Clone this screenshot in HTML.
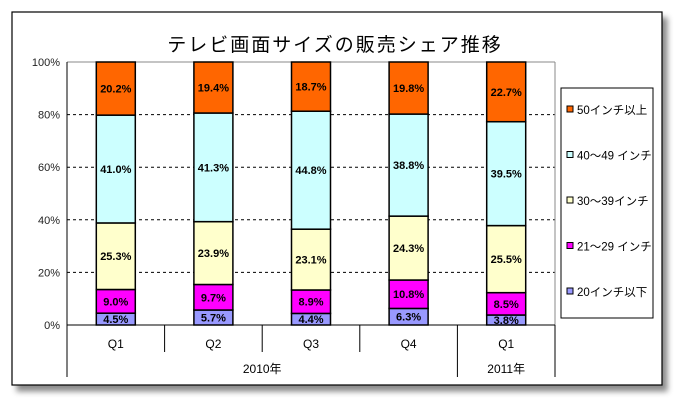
<!DOCTYPE html>
<html><head><meta charset="utf-8"><style>
body{margin:0;background:#fff;width:683px;height:406px;overflow:hidden;font-family:"Liberation Sans","Noto Sans CJK JP",sans-serif}
</style></head><body>
<svg width="683" height="406" xmlns="http://www.w3.org/2000/svg">
<defs><filter id="sh" x="-5%" y="-5%" width="115%" height="120%"><feDropShadow dx="5" dy="6" stdDeviation="3" flood-color="#000" flood-opacity="0.45"/></filter></defs>
<rect x="12" y="12" width="650" height="373" fill="#fff" stroke="#000" stroke-width="1.2" filter="url(#sh)"/>
<text x="335" y="51" font-size="19" text-anchor="middle" letter-spacing="2">テレビ画面サイズの販売シェア推移</text>
<g id="plot"></g>
<rect x="561" y="88" width="92" height="230" fill="#fff" stroke="#000"/>
<g id="leg"></g>
</svg>
<script>
const categories=["Q1","Q2","Q3","Q4","Q1"];
const years=["2010年","2011年"];
const seriesNames=["20インチ以下","21～29 インチ","30～39インチ","40～49 インチ","50インチ以上"];
const legendLabels=["50インチ以上","40～49 インチ","30～39インチ","21～29 インチ","20インチ以下"];
const colors=["#9999ff","#ff00ff","#ffffcc","#ccffff","#ff6600"];
const s20=[4.5,5.7,4.4,6.3,3.8];
const s21=[9.0,9.7,8.9,10.8,8.5];
const s30=[25.3,23.9,23.1,24.3,25.5];
const s40=[41.0,41.3,44.8,38.8,39.5];
const s50=[20.2,19.4,18.7,19.8,22.7];
const yTicks=[0,20,40,60,80,100];
const series=[s20,s21,s30,s40,s50];
const NS="http://www.w3.org/2000/svg";
const L=67,R=555,T=62,B=325;
const cw=(R-L)/categories.length, bw=39;
const y=v=>B-(v/100)*(B-T);
const g=document.getElementById('plot');
function mk(t,a,p){const e=document.createElementNS(NS,t);for(const k in a)e.setAttribute(k,a[k]);(p||g).appendChild(e);return e;}
yTicks.forEach(v=>{
  if(v>0&&v<100){const l=mk('line',{x1:L,x2:R,y1:y(v),y2:y(v),stroke:'#000','stroke-dasharray':'3,3','stroke-width':1});
  
  }
  const t=mk('text',{x:L-7,y:y(v)+4,'font-size':11,'text-anchor':'end',fill:'#222'});t.textContent=v+'%';
  
  
});
mk('line',{x1:L,x2:R,y1:T,y2:T,stroke:'#888'});
mk('line',{x1:R,x2:R,y1:T,y2:B,stroke:'#888'});
categories.forEach((c,i)=>{
  const sum=series.reduce((a,s)=>a+s[i],0);
  let acc=0;const cx=L+cw*(i+0.5);
  series.forEach((s,k)=>{
    const v0=acc/sum*100,v1=(acc+s[i])/sum*100;acc+=s[i];
    const r=mk('rect',{x:cx-bw/2,y:y(v1),width:bw,height:y(v0)-y(v1),fill:colors[k],stroke:'#000','stroke-width':1.5});
    
    
    const t=mk('text',{x:cx,y:(y(v0)+y(v1))/2+4,'font-size':11,'font-weight':'bold','text-anchor':'middle'});
    t.textContent=s[i].toFixed(1)+'%';
    
    
  });
  const q=mk('text',{x:cx,y:348,'font-size':12,'text-anchor':'middle'});q.textContent=c;
  
  
});
mk('line',{x1:L,x2:R,y1:B,y2:B,stroke:'#000'});
mk('line',{x1:L,x2:L,y1:T,y2:377,stroke:'#000'});
for(let i=1;i<categories.length;i++){const x=L+cw*i;mk('line',{x1:x,x2:x,y1:B,y2:i==4?377:352,stroke:'#000'});}
mk('line',{x1:R,x2:R,y1:B,y2:377,stroke:'#000'});
const y1=mk('text',{x:L+cw*2,y:373,'font-size':12,'text-anchor':'middle'});y1.textContent=years[0];


const y2=mk('text',{x:L+cw*4.5,y:373,'font-size':12,'text-anchor':'middle'});y2.textContent=years[1];


const lg=document.getElementById('leg');
legendLabels.forEach((n,i)=>{
  const yy=111+i*45.5;
  const r=mk('rect',{x:567,y:yy-5,width:6,height:6,fill:colors[4-i],stroke:'#000'},lg);
  
  
  const t=mk('text',{x:577,y:yy+3,'font-size':11.5},lg);t.textContent=n;
  
  
});
</script>
</body></html>
